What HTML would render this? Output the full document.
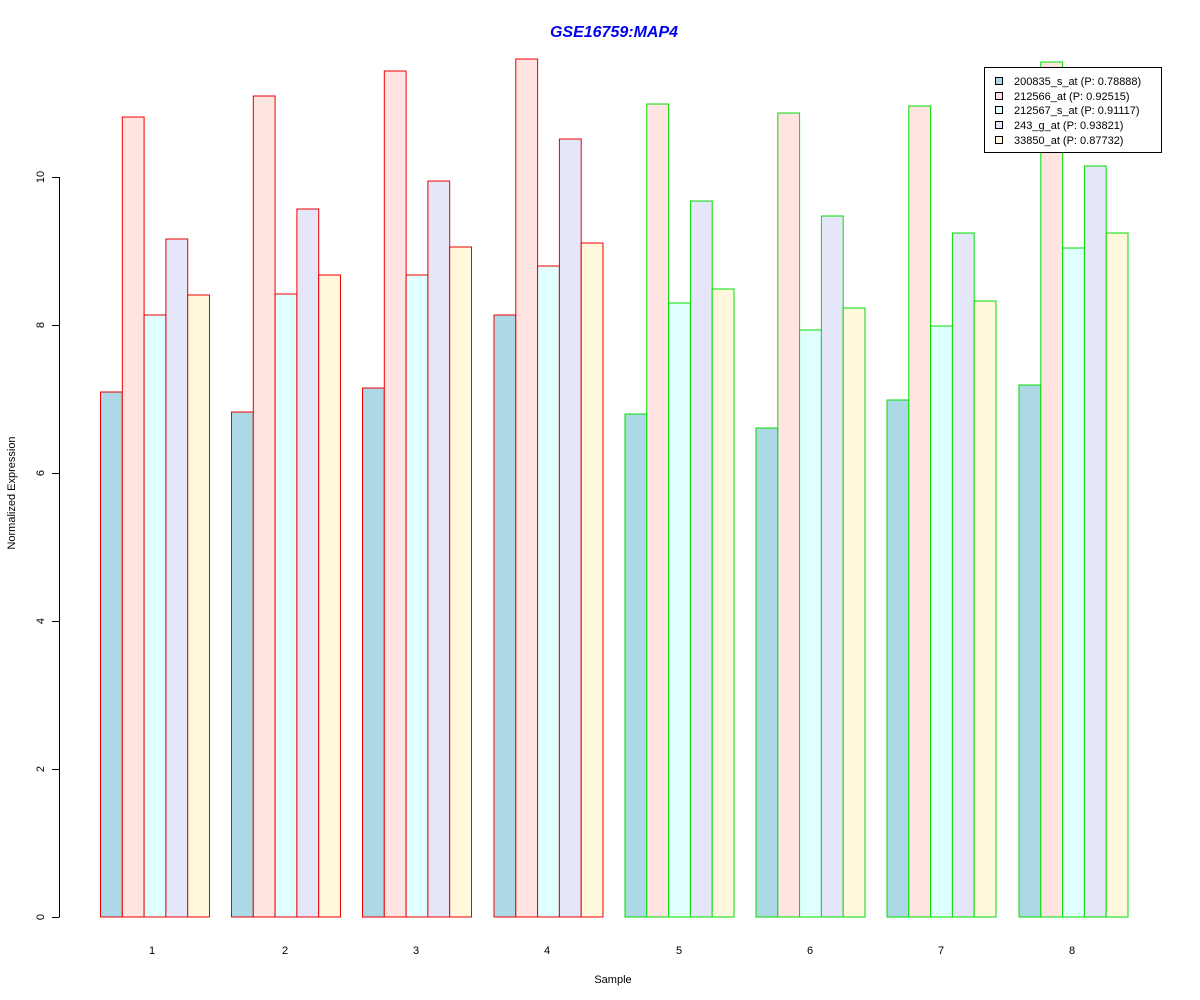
<!DOCTYPE html>
<html><head><meta charset="utf-8"><style>body{margin:0;background:#fff}svg{display:block}</style></head><body>
<svg width="1200" height="1000" xmlns="http://www.w3.org/2000/svg" font-family="Liberation Sans, Arial, sans-serif">
<rect width="1200" height="1000" fill="#fff"/>
<text x="614" y="37" text-anchor="middle" font-size="16" font-weight="bold" font-style="italic" fill="#0000ee">GSE16759:MAP4</text>
<g stroke-width="1">
<g stroke="#ee0000">
<rect x="100.5" y="392" width="21.8" height="525" fill="#add8e6"/>
<rect x="122.3" y="117" width="21.8" height="800" fill="#ffe4e1"/>
<rect x="144.1" y="315" width="21.8" height="602" fill="#e0ffff"/>
<rect x="165.9" y="239" width="21.8" height="678" fill="#e6e6fa"/>
<rect x="187.7" y="295" width="21.8" height="622" fill="#fff8dc"/>
<rect x="231.5" y="412" width="21.8" height="505" fill="#add8e6"/>
<rect x="253.3" y="96" width="21.8" height="821" fill="#ffe4e1"/>
<rect x="275.1" y="294" width="21.8" height="623" fill="#e0ffff"/>
<rect x="296.9" y="209" width="21.8" height="708" fill="#e6e6fa"/>
<rect x="318.7" y="275" width="21.8" height="642" fill="#fff8dc"/>
<rect x="362.5" y="388" width="21.8" height="529" fill="#add8e6"/>
<rect x="384.3" y="71" width="21.8" height="846" fill="#ffe4e1"/>
<rect x="406.1" y="275" width="21.8" height="642" fill="#e0ffff"/>
<rect x="427.9" y="181" width="21.8" height="736" fill="#e6e6fa"/>
<rect x="449.7" y="247" width="21.8" height="670" fill="#fff8dc"/>
<rect x="494" y="315" width="21.8" height="602" fill="#add8e6"/>
<rect x="515.8" y="59" width="21.8" height="858" fill="#ffe4e1"/>
<rect x="537.6" y="266" width="21.8" height="651" fill="#e0ffff"/>
<rect x="559.4" y="139" width="21.8" height="778" fill="#e6e6fa"/>
<rect x="581.2" y="243" width="21.8" height="674" fill="#fff8dc"/>
</g>
<g stroke="#00dd00">
<rect x="625" y="414" width="21.8" height="503" fill="#add8e6"/>
<rect x="646.8" y="104" width="21.8" height="813" fill="#ffe4e1"/>
<rect x="668.6" y="303" width="21.8" height="614" fill="#e0ffff"/>
<rect x="690.4" y="201" width="21.8" height="716" fill="#e6e6fa"/>
<rect x="712.2" y="289" width="21.8" height="628" fill="#fff8dc"/>
<rect x="756" y="428" width="21.8" height="489" fill="#add8e6"/>
<rect x="777.8" y="113" width="21.8" height="804" fill="#ffe4e1"/>
<rect x="799.6" y="330" width="21.8" height="587" fill="#e0ffff"/>
<rect x="821.4" y="216" width="21.8" height="701" fill="#e6e6fa"/>
<rect x="843.2" y="308" width="21.8" height="609" fill="#fff8dc"/>
<rect x="887" y="400" width="21.8" height="517" fill="#add8e6"/>
<rect x="908.8" y="106" width="21.8" height="811" fill="#ffe4e1"/>
<rect x="930.6" y="326" width="21.8" height="591" fill="#e0ffff"/>
<rect x="952.4" y="233" width="21.8" height="684" fill="#e6e6fa"/>
<rect x="974.2" y="301" width="21.8" height="616" fill="#fff8dc"/>
<rect x="1019" y="385" width="21.8" height="532" fill="#add8e6"/>
<rect x="1040.8" y="62" width="21.8" height="855" fill="#ffe4e1"/>
<rect x="1062.6" y="248" width="21.8" height="669" fill="#e0ffff"/>
<rect x="1084.4" y="166" width="21.8" height="751" fill="#e6e6fa"/>
<rect x="1106.2" y="233" width="21.8" height="684" fill="#fff8dc"/>
</g>
</g>
<g stroke="#000" stroke-width="1">
<line x1="59.5" y1="177" x2="59.5" y2="917"/>
<line x1="52" y1="917.5" x2="59.5" y2="917.5"/>
<line x1="52" y1="769.5" x2="59.5" y2="769.5"/>
<line x1="52" y1="621.5" x2="59.5" y2="621.5"/>
<line x1="52" y1="473.5" x2="59.5" y2="473.5"/>
<line x1="52" y1="325.5" x2="59.5" y2="325.5"/>
<line x1="52" y1="177.5" x2="59.5" y2="177.5"/>
</g>
<g font-size="11" fill="#000" text-anchor="middle">
<text transform="translate(44,917) rotate(-90)">0</text>
<text transform="translate(44,769) rotate(-90)">2</text>
<text transform="translate(44,621) rotate(-90)">4</text>
<text transform="translate(44,473) rotate(-90)">6</text>
<text transform="translate(44,325) rotate(-90)">8</text>
<text transform="translate(44,177) rotate(-90)">10</text>
<text transform="translate(15,493) rotate(-90)">Normalized Expression</text>
<text x="152" y="954">1</text>
<text x="285" y="954">2</text>
<text x="416" y="954">3</text>
<text x="547" y="954">4</text>
<text x="679" y="954">5</text>
<text x="810" y="954">6</text>
<text x="941" y="954">7</text>
<text x="1072" y="954">8</text>
<text x="613" y="983">Sample</text>
</g>
<rect x="984.5" y="67.5" width="177" height="85" fill="#fff" stroke="#000"/>
<g stroke="#000" stroke-width="1">
<rect x="995.5" y="77.5" width="7" height="7" fill="#add8e6"/>
<rect x="995.5" y="92.5" width="7" height="7" fill="#ffe4e1"/>
<rect x="995.5" y="106.5" width="7" height="7" fill="#e0ffff"/>
<rect x="995.5" y="121.5" width="7" height="7" fill="#e6e6fa"/>
<rect x="995.5" y="136.5" width="7" height="7" fill="#fff8dc"/>
</g>
<g font-size="11" fill="#000">
<text x="1014" y="85">200835_s_at (P: 0.78888)</text>
<text x="1014" y="100">212566_at (P: 0.92515)</text>
<text x="1014" y="114">212567_s_at (P: 0.91117)</text>
<text x="1014" y="129">243_g_at (P: 0.93821)</text>
<text x="1014" y="144">33850_at (P: 0.87732)</text>
</g>
</svg>
</body></html>
